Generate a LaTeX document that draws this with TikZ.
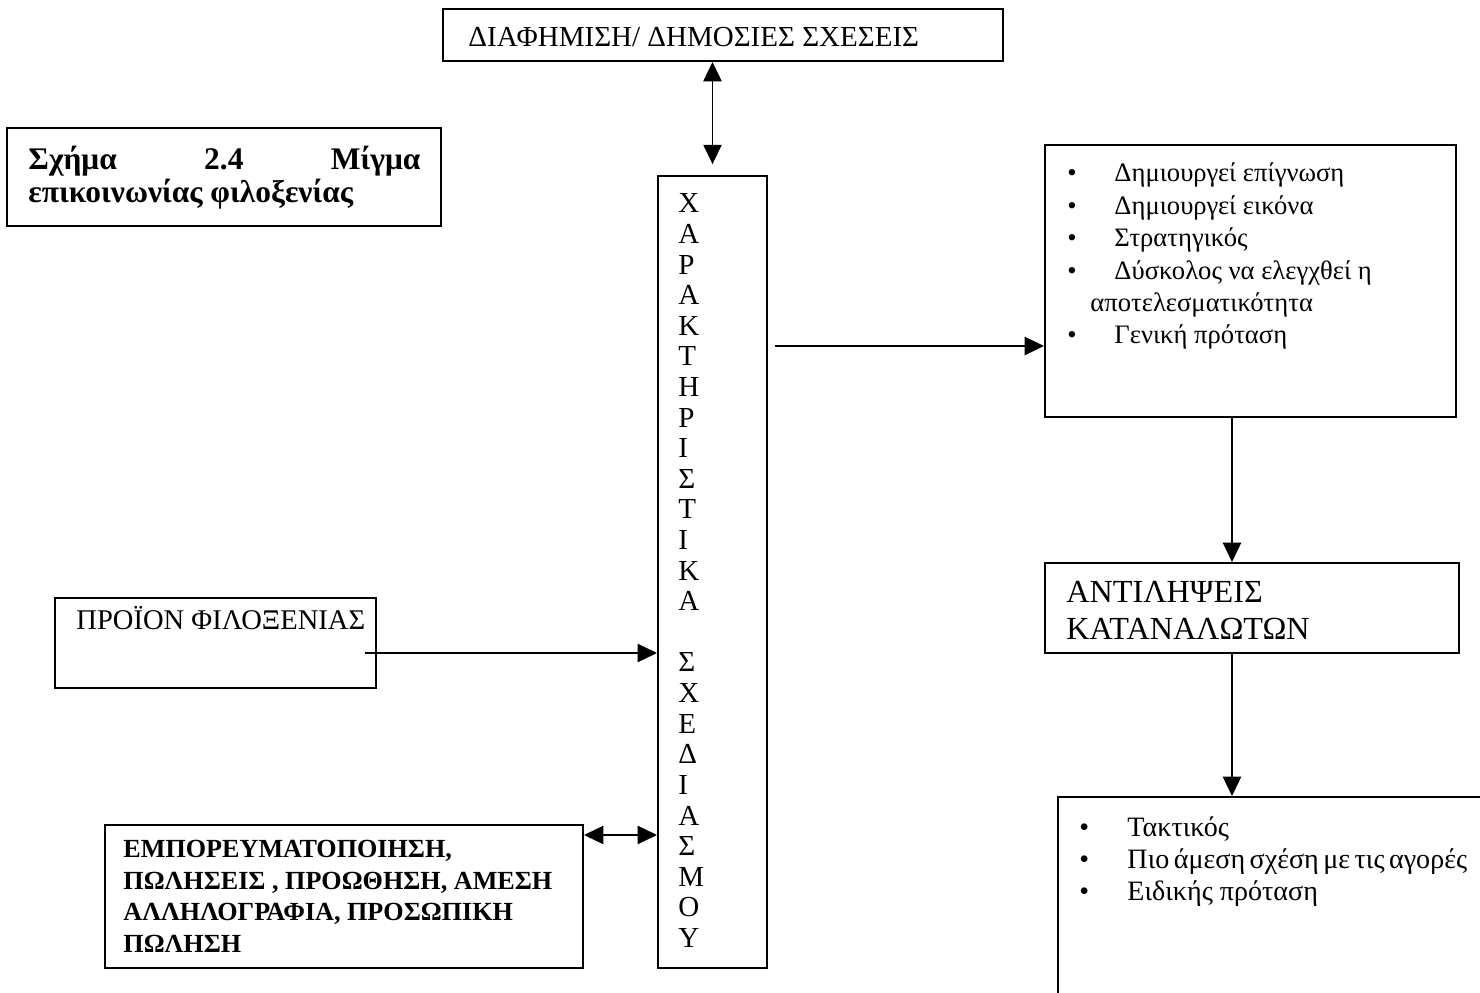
\documentclass[tikz,border=0pt]{standalone}
\usepackage{fontspec}
\setmainfont{Liberation Serif}
\usetikzlibrary{arrows.meta,fit}
\begin{document}
\begin{tikzpicture}[x=0.4133pt,y=-0.4133pt,
  box/.style={draw, line width=0.8pt, inner sep=0pt},
  txt/.style={anchor=base west, inner sep=0pt, font=\fontsize{12}{14}\selectfont},
  stxt/.style={txt, font=\fontsize{11}{13}\selectfont},
  ctxt/.style={txt, font=\fontsize{11.6}{13}\selectfont},
  btxt/.style={txt, font=\fontsize{10.8}{13}\selectfont\bfseries},
  ttxt/.style={txt, font=\fontsize{13}{15}\selectfont\bfseries},
  arr/.style={line width=0.8pt, -{Triangle[length=8pt,width=7.5pt]}},
  darr/.style={line width=0.8pt, {Triangle[length=8pt,width=7.5pt]}-{Triangle[length=8pt,width=7.5pt]}}]
\clip (0,0) rectangle (1480,993);
\fill[white] (0,0) rectangle (1480,993);
% boxes
\node[box, fit={(443,9)(1003,61)}] (top) {};
\node[box, fit={(7,128)(441,226)}] (title) {};
\node[box, fit={(658,176)(767,968)}] (vbox) {};
\node[box, fit={(1045,145)(1456,417)}] (box1) {};
\node[box, fit={(1045,563)(1459,653)}] (anti) {};
\node[box, fit={(1058,797)(1500,1010)}] (box3) {};
\node[box, fit={(55,598)(376,688)}] (prod) {};
\node[box, fit={(105,825)(583,968)}] (emp) {};
% texts
\node[txt] (ttop) at (468,47) {ΔΙΑΦΗΜΙΣΗ/ ΔΗΜΟΣΙΕΣ ΣΧΕΣΕΙΣ};
\node[ttxt] (tt1) at (28,170) {\hbox to 162pt{Σχήμα\hfill 2.4\hfill Μίγμα}};
\node[ttxt] (tt2) at (28,203) {επικοινωνίας φιλοξενίας};
\foreach \L [count=\i from 0] in {Χ,Α,Ρ,Α,Κ,Τ,Η,Ρ,Ι,Σ,Τ,Ι,Κ,Α}
  \node[txt] (va\i) at (678,{213+30.6*\i}) {\L};
\foreach \L [count=\i from 15] in {Σ,Χ,Ε,Δ,Ι,Α,Σ,Μ,Ο,Υ}
  \node[txt] (vb\i) at (678,{213+30.6*\i}) {\L};
\foreach \T [count=\i from 0] in {Δημιουργεί επίγνωση,Δημιουργεί εικόνα,Στρατηγικός,Δύσκολος να ελεγχθεί η}
  {\node[stxt] (b1b\i) at (1067,{182+32.4*\i}) {•};
   \node[stxt] (b1t\i) at (1114,{182+32.4*\i}) {\T};}
\node[stxt] (b1t4) at (1090,312) {αποτελεσματικότητα};
\node[stxt] (b1b5) at (1067,344) {•};
\node[stxt] (b1t5) at (1114,344) {Γενική πρόταση};
\node[txt, font=\fontsize{13.3}{15}\selectfont] (an1) at (1066,603) {ΑΝΤΙΛΗΨΕΙΣ};
\node[txt, font=\fontsize{13.3}{15}\selectfont] (an2) at (1066,640) {ΚΑΤΑΝΑΛΩΤΩΝ};
\foreach \i in {0,1,2} \node[ctxt] (b3b\i) at (1079,{836+32.4*\i}) {•};
\node[ctxt] (b3t0) at (1127,836) {Τακτικός};
\node[ctxt] (b3t1) at (1127,868.4) {\spaceskip=0.16em\relax Πιο άμεση σχέση με τις αγορές};
\node[ctxt] (b3t2) at (1127,900.8) {Ειδικής πρόταση};
\node[txt, font=\fontsize{11.8}{14}\selectfont] (tprod) at (76,630) {ΠΡΟΪΟΝ ΦΙΛΟΞΕΝΙΑΣ};
\node[btxt] (e1) at (123,857) {ΕΜΠΟΡΕΥΜΑΤΟΠΟΙΗΣΗ,};
\node[btxt] (e2) at (123,889) {ΠΩΛΗΣΕΙΣ , ΠΡΟΩΘΗΣΗ, ΑΜΕΣΗ};
\node[btxt] (e3) at (123,920) {ΑΛΛΗΛΟΓΡΑΦΙΑ, ΠΡΟΣΩΠΙΚΗ};
\node[btxt] (e4) at (123,952) {ΠΩΛΗΣΗ};
% connectors
\coordinate (a1) at (775,346);
\coordinate (a2) at (365,653);
\coordinate (r3) at (0,835);
\coordinate (c1) at (1232,0);
\draw[darr] (vbox.north |- top.south) -- ([yshift=4.5pt]vbox.north);
\draw[arr] (a1) -- (a1 -| box1.west);
\draw[arr] (a2) -- (a2 -| vbox.west);
\draw[darr] (emp.east |- r3) -- (vbox.west |- r3);
\draw[arr] (box1.south -| c1) -- (anti.north -| c1);
\draw[arr] (anti.south -| c1) -- (box3.north -| c1);
\end{tikzpicture}
\end{document}
